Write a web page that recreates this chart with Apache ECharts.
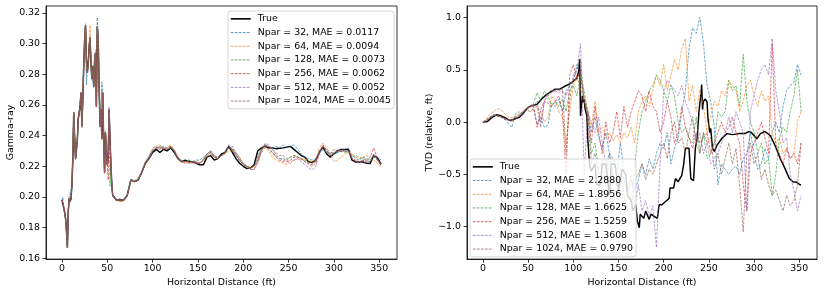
<!DOCTYPE html>
<html>
<head>
<meta charset="utf-8">
<script src="https://cdn.jsdelivr.net/npm/echarts@6/dist/echarts.min.js"></script>
<style>html,body{margin:0;padding:0;background:#fff;}#chart{width:830px;height:292px;}</style>
</head>
<body>
<div id="chart"></div>
<script>
// ---------- tick labels ----------
const distTicks = [0, 50, 100, 150, 200, 250, 300, 350];
const gammaTicks = [0.16, 0.18, 0.20, 0.22, 0.24, 0.26, 0.28, 0.30, 0.32];
const tvdTicks = [-1.0, -0.5, 0.0, 0.5, 1.0];

// ---------- left panel: Gamma-ray ----------
const distL = [0,1,2,3,4,5,6,7,8,9,10,11,12,13,14,15,16,17,18,19,20,21,22,23,24,25,26,27,28,29,30,31,32,33,34,35,36,37,38,39,40,41,42,43,44,45,46,47,48,49,50,51,52,53,54,55,56,
60,64,68,72,76,80,84,88,92,96,100,104,108,112,116,120,124,128,132,136,140,144,148,152,156,160,164,168,172,176,180,184,188,192,196,200,204,208,212,216,220,224,228,232,236,240,244,248,252,256,260,264,268,272,276,280,284,288,292,296,300,304,308,312,316,320,324,328,332,336,340,344,348,352];

const gammaTrue = [.198,.199,.193,.190,.186,.178,.167,.191,.199,.197,.199,.208,.225,.255,.238,.225,.231,.238,.251,.255,.259,.268,.246,.264,.285,.302,.312,.289,.281,.287,.298,.304,.287,.277,.285,.272,.289,.294,.259,.311,.302,.272,.246,.257,.238,.268,.238,.216,.242,.229,.221,.225,.257,.238,.221,.208,.201,
.198,.198,.198,.201,.211,.210,.211,.216,.222,.225,.229,.231,.229,.231,.230,.232,.229,.225,.223,.224,.223,.223,.222,.221,.221,.226,.227,.224,.225,.228,.229,.233,.229,.225,.222,.220,.2185,.219,.221,.230,.232,.233,.232,.232,.2315,.2318,.232,.2325,.233,.231,.229,.227,.226,.223,.2225,.224,.229,.2325,.228,.226,.228,.230,.231,.231,.231,.224,.2228,.2228,.2228,.222,.2218,.227,.2255,.2215];

const gammaN32 = [.198,.200,.192,.191,.185,.179,.168,.190,.200,.201,.199,.207,.226,.254,.239,.224,.232,.237,.252,.254,.260,.267,.247,.263,.284,.301,.311,.273,.283,.286,.296,.303,.289,.276,.286,.271,.290,.293,.261,.317,.301,.273,.247,.256,.275,.270,.239,.217,.241,.230,.222,.226,.255,.240,.222,.209,.200,
.199,.197,.198,.202,.212,.210,.212,.217,.223,.226,.231,.233,.232,.233,.232,.233,.231,.226,.224,.223,.224,.223,.224,.224,.226,.228,.230,.227,.226,.227,.229,.232,.231,.228,.224,.221,.220,.219,.221,.226,.232,.234,.233,.232,.233,.232,.234,.232,.233,.234,.231,.228,.226,.225,.224,.225,.229,.231,.229,.228,.228,.229,.230,.231,.232,.227,.225,.224,.226,.225,.224,.227,.226,.224];

const gammaN64 = [.198,.199,.194,.190,.187,.178,.168,.191,.198,.197,.200,.208,.224,.255,.237,.226,.231,.239,.250,.256,.258,.268,.245,.265,.286,.303,.313,.288,.282,.286,.297,.312,.286,.278,.284,.273,.288,.296,.260,.310,.303,.271,.246,.258,.237,.267,.239,.215,.243,.228,.220,.226,.256,.237,.220,.207,.201,
.198,.197,.197,.201,.211,.210,.212,.216,.223,.227,.232,.233,.234,.231,.232,.234,.230,.226,.223,.222,.223,.222,.223,.222,.224,.226,.228,.226,.225,.227,.228,.230,.230,.229,.226,.222,.220,.219,.220,.223,.229,.232,.230,.226,.224,.223,.222,.221,.223,.224,.225,.224,.225,.224,.223,.224,.232,.235,.232,.228,.223,.224,.226,.228,.229,.228,.226,.225,.226,.227,.225,.224,.222,.219];

const gammaN128 = [.198,.199,.193,.190,.186,.178,.167,.191,.199,.197,.199,.208,.225,.254,.238,.225,.231,.238,.251,.255,.259,.268,.246,.264,.285,.302,.311,.289,.281,.287,.298,.304,.287,.277,.285,.272,.289,.294,.259,.310,.302,.272,.246,.257,.270,.262,.238,.216,.242,.229,.221,.225,.254,.207,.221,.208,.201,
.198,.198,.198,.201,.211,.211,.211,.216,.222,.225,.230,.232,.233,.232,.231,.233,.230,.225,.223,.223,.224,.223,.222,.222,.225,.228,.230,.226,.225,.227,.229,.232,.232,.228,.225,.222,.220,.219,.220,.225,.231,.233,.231,.229,.227,.225,.225,.224,.226,.227,.226,.225,.224,.223,.222,.224,.229,.233,.229,.227,.228,.229,.230,.229,.230,.226,.227,.226,.225,.224,.223,.226,.224,.221];

const gammaN256 = [.198,.199,.193,.190,.186,.178,.167,.191,.199,.197,.199,.208,.225,.255,.238,.225,.231,.238,.251,.255,.259,.268,.246,.264,.285,.302,.312,.289,.281,.287,.298,.304,.287,.277,.285,.272,.289,.294,.259,.311,.302,.272,.246,.257,.238,.268,.238,.216,.242,.229,.221,.211,.257,.238,.221,.208,.201,
.198,.198,.198,.201,.211,.210,.211,.216,.222,.226,.230,.232,.232,.232,.231,.233,.230,.225,.223,.223,.223,.223,.223,.222,.224,.228,.229,.226,.225,.227,.229,.233,.231,.227,.224,.221,.220,.219,.220,.224,.231,.234,.232,.229,.226,.224,.223,.223,.224,.226,.226,.225,.223,.222,.221,.223,.230,.234,.230,.227,.229,.230,.230,.230,.230,.225,.224,.223,.224,.224,.226,.232,.225,.220];

const gammaN512 = [.198,.199,.193,.190,.186,.178,.167,.191,.199,.197,.199,.208,.225,.255,.238,.225,.231,.238,.251,.255,.259,.268,.246,.264,.285,.302,.312,.289,.281,.287,.298,.304,.287,.277,.285,.272,.289,.294,.259,.311,.302,.272,.246,.257,.238,.268,.238,.216,.242,.229,.221,.225,.259,.238,.221,.208,.201,
.198,.199,.198,.201,.211,.210,.211,.216,.222,.225,.230,.232,.232,.232,.231,.232,.230,.225,.223,.222,.222,.222,.222,.222,.224,.228,.230,.227,.225,.227,.230,.234,.233,.229,.225,.222,.220,.218,.218,.222,.229,.235,.234,.231,.228,.225,.224,.224,.222,.224,.225,.223,.221,.219,.2175,.220,.228,.233,.231,.229,.229,.230,.231,.230,.229,.225,.223,.222,.223,.222,.223,.228,.224,.222];

const gammaN1024 = [.198,.199,.193,.190,.186,.178,.167,.191,.199,.197,.199,.208,.225,.255,.238,.225,.231,.238,.251,.255,.259,.268,.246,.264,.285,.302,.312,.289,.281,.287,.298,.304,.287,.277,.285,.272,.289,.294,.259,.311,.302,.272,.246,.257,.238,.268,.238,.216,.242,.229,.221,.225,.257,.238,.221,.208,.201,
.198,.198,.198,.201,.211,.210,.211,.216,.222,.225,.230,.232,.231,.232,.231,.232,.230,.225,.223,.223,.223,.223,.222,.222,.224,.227,.229,.226,.225,.227,.229,.233,.231,.227,.224,.221,.219,.218,.218,.223,.230,.234,.233,.231,.229,.227,.227,.225,.226,.227,.226,.225,.223,.221,.220,.222,.229,.233,.230,.228,.231,.230,.230,.230,.230,.225,.223,.223,.224,.223,.223,.228,.224,.221];

// ---------- right panel: TVD ----------
const distTrueR = [0,5,10,15,20,25,30,35,40,45,50,55,60,65,70,75,80,85,90,95,100,104,106,107,108,109,110,111,112,113,115,116,118,120,124,126,130,132,136,140,142,146,150,154,158,160,164,166,169,171,173,174,176,178,180,182,184,186,187,189,191,193,195,198,202,206,207,211,213,216,220,222,224,226,228,230,233,235,237,239,241,242,243,244,246,248,249,251,252,254,256,259,265,270,276,283,290,294,297,303,307,312,318,323,329,334,339,343,347,351,352];
const tvdTrue = [0,0.005,0.045,0.07,0.06,0.04,0.015,0.03,0.045,0.09,0.14,0.16,0.17,0.22,0.26,0.29,0.315,0.315,0.34,0.36,0.39,0.42,0.49,0.6,0.06,0.16,0.25,0.19,0.22,0.13,0.06,-0.16,-0.41,-0.47,-0.4,-0.6,-0.6,-0.4,-0.4,-0.7,-0.4,-0.4,-0.65,-0.45,-0.5,-0.7,-0.75,-0.85,-0.79,-0.95,-1.01,-0.88,-0.9,-0.92,-0.85,-0.85,-0.93,-0.88,-0.87,-0.9,-0.9,-0.92,-0.79,-0.79,-0.76,-0.73,-0.63,-0.63,-0.54,-0.57,-0.51,-0.41,-0.25,-0.25,-0.25,-0.54,-0.56,-0.25,-0.16,0.1,0.25,0.36,0.12,0.2,0.22,0.19,0.03,-0.1,-0.06,-0.25,-0.28,-0.22,-0.15,-0.11,-0.12,-0.11,-0.11,-0.09,-0.1,-0.16,-0.11,-0.09,-0.13,-0.22,-0.35,-0.44,-0.54,-0.57,-0.575,-0.6,-0.6];

const distR = [0,4,8,12,16,20,24,28,32,36,40,44,48,52,56,60,64,68,72,76,80,84,88,92,96,100,104,108,112,116,120,124,128,132,136,140,144,148,152,156,160,164,168,172,176,180,184,188,192,196,200,204,208,212,216,220,224,228,232,236,240,244,248,252,256,260,264,268,272,276,280,284,288,292,296,300,304,308,312,316,320,324,328,332,336,340,344,348,352];

const tvdN32 = [0.0,0.01,0.04,0.06,0.06,0.05,0.03,-0.01,-0.05,0.08,
0.1,0.06,0.12,0.1,0.13,-0.02,0.05,-0.05,-0.03,0.18,
0.15,0.22,0.1,0.3,0.35,0.4,0.55,0.45,0.2,0.1,
-0.1,0.05,-0.15,-0.25,-0.1,-0.3,-0.35,-0.5,-0.2,-0.45,
-0.6,-0.55,-0.65,-0.55,-0.4,-0.5,-0.35,-0.45,-0.3,-0.2,
-0.25,-0.1,-0.4,-0.25,-0.15,0.1,0.3,0.7,0.9,0.85,
1.0,0.75,0.35,0.2,-0.05,-0.6,-0.4,-0.45,-0.5,-0.45,
-0.42,-0.5,-0.35,-0.3,-0.1,-0.3,-0.45,-0.4,-0.25,-0.35,
-0.1,0.0,-0.1,0.15,0.3,0.35,0.38,0.55,0.45];

const tvdN64 = [0.0,0.03,0.08,0.1,0.13,0.12,0.08,0.05,0.04,0.06,
0.08,0.1,0.14,0.1,0.12,0.15,0.1,0.0,0.05,0.25,
0.2,0.1,0.05,-0.2,0.1,0.35,0.45,0.3,0.25,0.1,
-0.05,0.2,-0.1,-0.05,-0.15,-0.1,-0.18,-0.12,-0.2,-0.1,
-0.15,-0.05,-0.2,0.1,0.2,0.25,0.15,0.3,0.45,0.35,
0.55,0.3,0.45,0.6,0.5,0.7,0.8,0.2,0.35,0.1,
0.3,0.15,-0.1,0.05,0.2,0.15,0.3,0.25,0.4,0.35,
0.3,0.1,0.2,0.35,0.4,0.25,0.15,0.3,0.2,0.25,
-0.1,-0.2,-0.15,-0.3,-0.25,-0.35,-0.3,0.0,0.1];

const tvdN128 = [0.0,0.02,0.05,0.07,0.06,0.05,0.03,0.02,0.01,0.05,
0.06,0.1,0.13,0.15,0.18,0.28,0.2,0.3,0.25,0.15,
0.2,0.15,0.22,0.1,0.3,0.35,0.25,0.45,0.3,0.1,
-0.3,-0.2,-0.45,-0.35,-0.5,-0.3,-0.55,-0.6,-0.5,-0.7,
-0.85,-0.9,-0.4,-0.1,0.1,0.2,0.3,0.35,0.45,0.4,
0.3,0.2,0.35,0.25,0.0,-0.1,-0.05,-0.15,-0.2,0.05,
-0.3,-0.1,-0.35,-0.3,-0.2,0.1,0.05,0.1,0.4,0.3,
0.35,0.15,0.65,0.2,0.0,-0.1,-0.3,-0.2,-0.4,-0.35,
-0.7,-0.5,-0.15,-0.05,-0.1,0.1,0.25,0.5,0.1];

const tvdN256 = [0.0,0.02,0.05,0.07,0.06,0.05,0.03,0.02,0.01,0.03,
0.05,0.08,0.12,0.15,0.16,-0.05,0.12,0.2,0.18,0.15,
0.2,0.25,0.1,-0.5,0.45,0.55,0.4,0.5,0.2,0.1,
-0.2,0.15,-0.1,-0.3,0.0,-0.2,-0.1,0.1,-0.15,0.15,
-0.05,0.1,0.2,0.3,0.25,0.1,0.3,0.15,0.1,-0.1,
0.0,0.2,0.05,-0.2,-0.1,0.15,-0.05,-0.15,-0.25,-0.1,
-0.2,-0.15,-0.1,-0.3,-0.2,-0.1,0.0,-0.1,-0.05,0.05,
-0.1,-0.2,-0.6,-0.85,-0.3,-0.2,-0.1,0.0,-0.15,-0.3,
0.75,-0.2,-0.3,-0.4,-0.25,-0.35,-0.3,-0.4,-0.2];

const tvdN512 = [0.0,0.02,0.05,0.07,0.06,0.05,0.03,0.02,0.02,0.05,
0.07,0.1,0.13,0.15,0.15,0.2,0.0,0.2,0.28,0.3,
0.3,0.28,0.3,0.25,0.35,0.4,0.5,0.75,-0.5,0.1,
0.0,-0.1,0.05,-0.2,-0.4,-0.3,-0.5,-0.45,-0.6,-0.55,
-0.7,-0.5,-0.8,-0.6,-0.85,-0.75,-0.9,-0.8,-1.2,-0.4,
0.3,0.4,0.35,0.3,0.25,0.35,0.2,0.1,0.0,-0.2,
-0.1,-0.3,-0.2,-0.4,-0.35,-0.3,-0.2,-0.1,0.05,-0.1,
0.1,0.0,-0.1,-0.85,0.1,0.25,0.4,0.5,0.55,0.45,
0.8,0.3,0.1,-0.2,-0.15,-0.5,-0.65,-0.85,-0.7];

const tvdN1024 = [0.0,0.01,0.04,0.07,0.06,0.05,0.03,0.02,0.02,0.04,
0.06,0.09,0.13,0.15,0.16,0.15,-0.05,0.2,0.25,0.28,
0.3,0.3,0.32,-0.3,0.2,0.45,0.5,0.6,0.2,0.05,
-0.4,-0.3,-0.5,-0.45,-0.55,-0.4,-0.5,-0.6,-0.45,-0.55,
-0.65,-0.6,-0.55,-0.5,-0.4,-0.55,-0.45,-0.5,-0.4,-0.3,
-0.2,-0.35,-0.1,0.0,-0.2,-0.15,-0.3,-0.1,0.05,-0.2,
-0.3,-0.1,-0.2,-0.15,-0.45,-0.3,-0.5,-0.35,-0.2,-0.4,
-0.25,-0.6,-1.05,-0.3,-0.2,-0.4,-0.3,-0.55,-0.45,-0.6,
-0.7,-0.65,-0.75,-0.85,-0.7,-0.8,-0.75,-0.6,-0.2];

const nparLabels = ['32', '64', '128', '256', '512', '1024'];
const gammaMAE = ['0.0117', '0.0094', '0.0073', '0.0062', '0.0052', '0.0045'];
const tvdMAE = ['2.2880', '1.8956', '1.6625', '1.5259', '1.3608', '0.9790'];
const colors = ['#1f77b4', '#ff7f0e', '#2ca02c', '#d62728', '#9467bd', '#8c564b'];

// ---------- build ----------
const FONT = 'DejaVu Sans';
const FS = 9.4;
function pair(xs, ys) { return xs.map((x, i) => [x, ys[i]]); }

const gammaPreds = [gammaN32, gammaN64, gammaN128, gammaN256, gammaN512, gammaN1024];
const tvdPreds = [tvdN32, tvdN64, tvdN128, tvdN256, tvdN512, tvdN1024];

const series = [];
const leftNames = [{ name: 'True', lineStyle: { width: 1.6 } }];
const rightNames = [{ name: 'True ', lineStyle: { width: 1.6 } }];
series.push({
  name: 'True', type: 'line', xAxisIndex: 0, yAxisIndex: 0, data: pair(distL, gammaTrue),
  symbol: 'none', showSymbol: false, lineStyle: { color: '#000', width: 1.45 }, itemStyle: { color: '#000' }
});
gammaPreds.forEach((arr, k) => {
  const nm = 'Npar = ' + nparLabels[k] + ', MAE = ' + gammaMAE[k];
  leftNames.push({ name: nm, lineStyle: { width: 0.9 } });
  series.push({
    name: nm, type: 'line', xAxisIndex: 0, yAxisIndex: 0, data: pair(distL, arr),
    symbol: 'none', showSymbol: false,
    lineStyle: { color: colors[k], width: 0.8, type: [2.8, 1.2], opacity: 0.85 }, itemStyle: { color: colors[k] }
  });
});
series.push({
  name: 'True ', type: 'line', xAxisIndex: 1, yAxisIndex: 1, data: pair(distTrueR, tvdTrue),
  symbol: 'none', showSymbol: false, lineStyle: { color: '#000', width: 1.45 }, itemStyle: { color: '#000' }
});
tvdPreds.forEach((arr, k) => {
  const nm = 'Npar = ' + nparLabels[k] + ', MAE = ' + tvdMAE[k];
  rightNames.push({ name: nm, lineStyle: { width: 0.9 } });
  series.push({
    name: nm, type: 'line', xAxisIndex: 1, yAxisIndex: 1, data: pair(distR, arr),
    symbol: 'none', showSymbol: false,
    lineStyle: { color: colors[k], width: 0.8, type: [2.8, 1.2], opacity: 0.8 }, itemStyle: { color: colors[k] }
  });
});

function xAx(idx) {
  return {
    type: 'value', gridIndex: idx, min: -17.6, max: 369.6,
    name: 'Horizontal Distance (ft)', nameLocation: 'middle', nameGap: 17,
    nameTextStyle: { fontFamily: FONT, fontSize: FS, color: '#000' },
    axisLine: { show: true, onZero: false, lineStyle: { color: '#000', width: 0.8 } },
    axisTick: { show: true, inside: false, length: 3.5, lineStyle: { color: '#000', width: 0.8 }, customValues: distTicks },
    axisLabel: { fontFamily: FONT, fontSize: FS, color: '#000', margin: 5, customValues: distTicks, formatter: v => String(v) },
    splitLine: { show: false }
  };
}
function yAx(idx, mn, mx, ticks, fmt, nm, gap) {
  return {
    type: 'value', gridIndex: idx, min: mn, max: mx,
    name: nm, nameLocation: 'middle', nameGap: gap, nameRotate: 90,
    nameTextStyle: { fontFamily: FONT, fontSize: FS, color: '#000' },
    axisLine: { show: true, onZero: false, lineStyle: { color: '#000', width: 0.8 } },
    axisTick: { show: true, inside: false, length: 3.5, lineStyle: { color: '#000', width: 0.8 }, customValues: ticks },
    axisLabel: { fontFamily: FONT, fontSize: FS, color: '#000', margin: 6, customValues: ticks, formatter: fmt },
    splitLine: { show: false }
  };
}
function legendCfg(left, top, names) {
  return {
    left: left, top: top, orient: 'vertical', data: names,
    itemWidth: 20, itemHeight: 8, itemGap: 2,
    padding: [2, 3, 2, 2],
    backgroundColor: 'rgba(255,255,255,0.8)', borderColor: '#cccccc', borderWidth: 0.8, borderRadius: 3,
    itemStyle: { opacity: 0 },
    textStyle: { fontFamily: FONT, fontSize: FS, color: '#000', lineHeight: 11.7, padding: [0, 0, 0, 2] },
    selectedMode: false,
    formatter: n => n.trim()
  };
}

const chart = echarts.init(document.getElementById('chart'), null, { renderer: 'canvas' });
chart.setOption({
  animation: false,
  backgroundColor: '#fff',
  grid: [
    { left: 46, top: 6, width: 351, height: 256, show: true, borderColor: '#000', borderWidth: 0.8, containLabel: false },
    { left: 467, top: 6, width: 350, height: 256, show: true, borderColor: '#000', borderWidth: 0.8, containLabel: false }
  ],
  xAxis: [xAx(0), xAx(1)],
  yAxis: [
    yAx(0, 0.1595, 0.3245, gammaTicks, v => v.toFixed(2), 'Gamma-ray', 30),
    yAx(1, -1.31, 1.11, tvdTicks, v => (v < 0 ? '\u2212' : '') + Math.abs(v).toFixed(1), 'TVD (relative, ft)', 32)
  ],
  legend: [legendCfg(228, 11, leftNames), legendCfg(470, 159, rightNames)],
  series: series
});
</script>
</body>
</html>
